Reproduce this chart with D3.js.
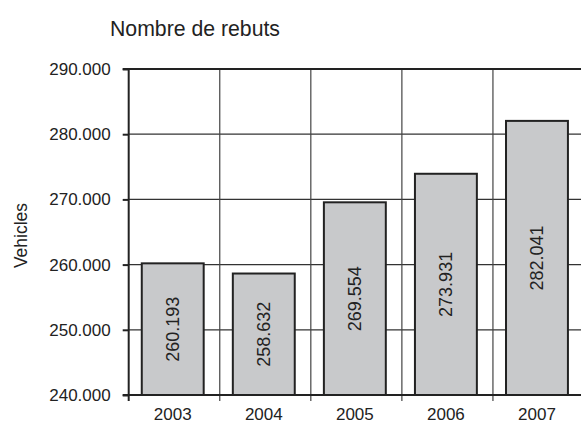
<!DOCTYPE html>
<html>
<head>
<meta charset="utf-8">
<script src="https://cdn.jsdelivr.net/npm/d3@7/dist/d3.min.js"></script>
<style>
  html, body { margin: 0; padding: 0; background: #fff; }
  svg { display: block; font-family: "Liberation Sans", Arial, Helvetica, sans-serif; }
</style>
</head>
<body>
<svg id="chart" width="581" height="423"></svg>
<script>
// Scrapped vehicles per year
const years = ["2003", "2004", "2005", "2006", "2007"];
const scrapped = [260193, 258632, 269554, 273931, 282041];
const yTicks = [240000, 250000, 260000, 270000, 280000, 290000];
const titleText = "Nombre de rebuts";
const yAxisTitle = "Vehicles";

const W = 581, H = 423;
const plot = { left: 128.7, right: 584, top: 69, bottom: 395 };

const svg = d3.select("#chart");
const fr = d3.formatLocale({ decimal: ",", thousands: ".", grouping: [3], currency: ["", ""] });
const fmt = fr.format(",.0f");

const y = d3.scaleLinear().domain([240000, 290000]).range([plot.bottom, plot.top]);
const x = d3.scaleBand().domain(years)
  .range([plot.left - 1.5, plot.right - 1.5])
  .paddingInner(0.32).paddingOuter(0.16);
const gap = x.step() * x.paddingInner() / 2;

// horizontal gridlines
svg.append("g").selectAll("line").data(yTicks.slice(1, -1)).join("line")
  .attr("x1", plot.left).attr("x2", W)
  .attr("y1", d => y(d)).attr("y2", d => y(d))
  .attr("stroke", "#333").attr("stroke-width", 1.2);

// vertical gridlines at category boundaries, extending below the axis as ticks
svg.append("g").selectAll("line").data(years.slice(1)).join("line")
  .attr("x1", d => x(d) - gap + 1.5).attr("x2", d => x(d) - gap + 1.5)
  .attr("y1", plot.top).attr("y2", plot.bottom + 6)
  .attr("stroke", "#444").attr("stroke-width", 1.2);

// top border
svg.append("line")
  .attr("x1", plot.left - 6).attr("x2", W)
  .attr("y1", y(290000)).attr("y2", y(290000))
  .attr("stroke", "#222").attr("stroke-width", 2);

// bars
svg.append("g").selectAll("rect").data(scrapped).join("rect")
  .attr("x", (d, i) => x(years[i]))
  .attr("width", x.bandwidth())
  .attr("y", d => y(d))
  .attr("height", d => plot.bottom - y(d))
  .attr("fill", "#c8c9cb")
  .attr("stroke", "#222").attr("stroke-width", 2);

// value labels inside bars
svg.append("g").selectAll("text").data(scrapped).join("text")
  .attr("transform", (d, i) => {
    const cx = x(years[i]) + x.bandwidth() / 2;
    const cy = (y(d) + plot.bottom) / 2;
    return `translate(${cx},${cy}) rotate(-90)`;
  })
  .attr("text-anchor", "middle").attr("dy", "0.36em")
  .attr("font-size", 18).attr("fill", "#222")
  .text(d => fmt(d));

// y axis
const yAxis = d3.axisLeft(y).tickValues(yTicks).tickSize(6).tickPadding(12).tickFormat(fmt);
const gy = svg.append("g").attr("transform", `translate(${plot.left},0)`).call(yAxis);
gy.select(".domain").remove();
gy.selectAll(".tick line").attr("stroke", "#222").attr("stroke-width", 2);
gy.selectAll(".tick text").attr("font-size", 17).attr("fill", "#222")
  .attr("font-family", "Liberation Sans, Arial, sans-serif");
svg.append("line")
  .attr("x1", plot.left).attr("x2", plot.left)
  .attr("y1", plot.top - 1).attr("y2", plot.bottom + 6)
  .attr("stroke", "#222").attr("stroke-width", 2);

// x axis
const gx = svg.append("g").attr("transform", `translate(0,${plot.bottom})`)
  .call(d3.axisBottom(x).tickSize(0).tickPadding(13));
gx.select(".domain").remove();
gx.selectAll(".tick text").attr("font-size", 17).attr("fill", "#222")
  .attr("font-family", "Liberation Sans, Arial, sans-serif");
svg.append("line")
  .attr("x1", plot.left - 6).attr("x2", W)
  .attr("y1", plot.bottom).attr("y2", plot.bottom)
  .attr("stroke", "#222").attr("stroke-width", 2);

// title
svg.append("text")
  .attr("x", 110).attr("y", 36)
  .attr("font-size", 22).attr("fill", "#222")
  .attr("textLength", 170).attr("lengthAdjust", "spacingAndGlyphs")
  .text(titleText);

// y axis title
svg.append("text")
  .attr("transform", "translate(27,235.5) rotate(-90)")
  .attr("text-anchor", "middle")
  .attr("font-size", 17.5).attr("fill", "#222")
  .text(yAxisTitle);
</script>
</body>
</html>
